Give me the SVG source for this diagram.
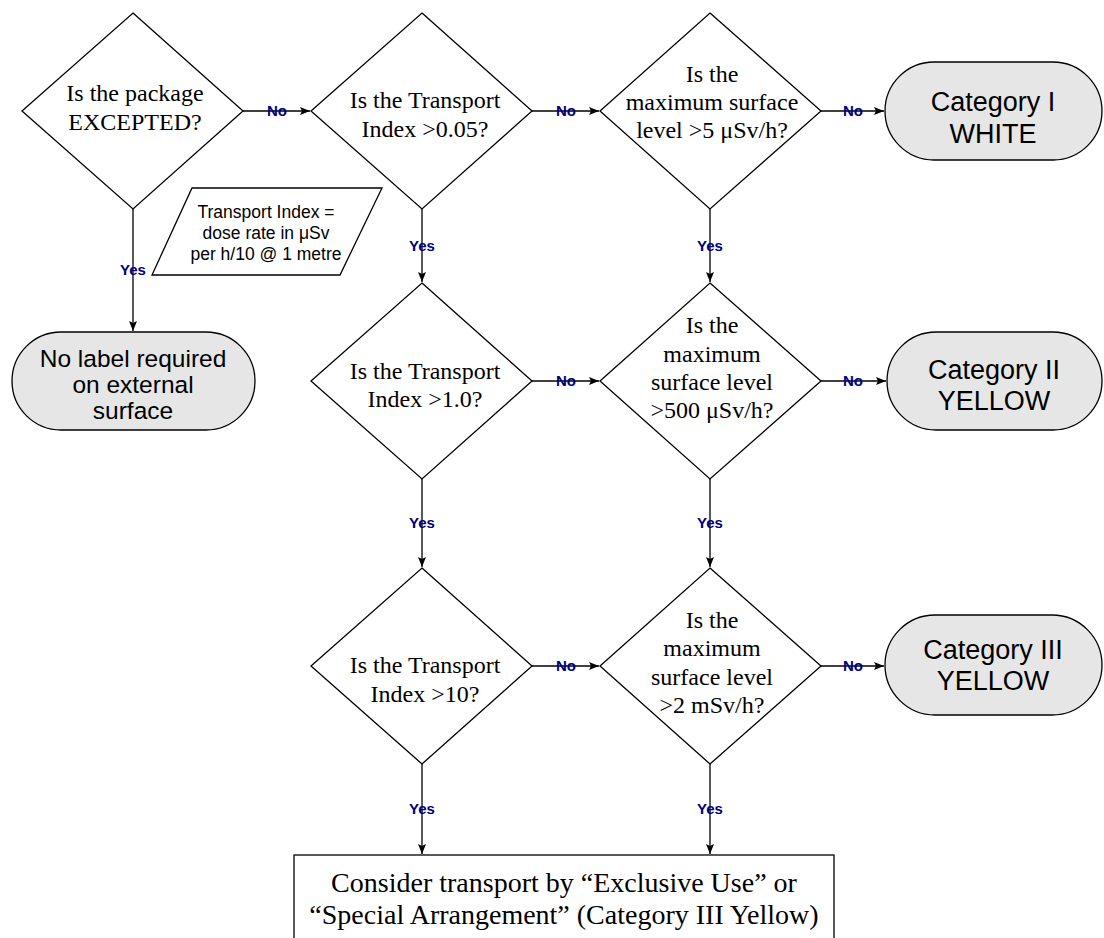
<svg xmlns="http://www.w3.org/2000/svg" width="1104" height="938" viewBox="0 0 1104 938">
<style>
.d{fill:#fff;stroke:#000;stroke-width:1.3}
.t{fill:#e6e6e6;stroke:#000;stroke-width:1.3}
.c{fill:none;stroke:#000;stroke-width:1.3}
.q{font-family:"Liberation Serif","Times New Roman",serif;font-size:24px;fill:#000;text-anchor:middle}
.a{font-family:"Liberation Sans",Arial,sans-serif;font-size:27px;fill:#000;text-anchor:middle}
.l{font-family:"Liberation Sans",Arial,sans-serif;font-size:15px;font-weight:bold;fill:#000080;text-anchor:middle}
</style>
<defs>
<marker id="ah" markerWidth="11" markerHeight="9" refX="10" refY="4" orient="auto" markerUnits="userSpaceOnUse">
<path d="M0,0 L10,4 L0,8 L2,4 z" fill="#000"/>
</marker>
</defs>
<rect width="1104" height="938" fill="#fff"/>
<g id="connectors">
<path class="c" d="M243,111 H310" marker-end="url(#ah)"/>
<path class="c" d="M532,111 H599" marker-end="url(#ah)"/>
<path class="c" d="M821,111 H884" marker-end="url(#ah)"/>
<path class="c" d="M133,209 V331" marker-end="url(#ah)"/>
<path class="c" d="M422,209 V282" marker-end="url(#ah)"/>
<path class="c" d="M710,209 V282" marker-end="url(#ah)"/>
<path class="c" d="M532,381 H599" marker-end="url(#ah)"/>
<path class="c" d="M821,381 H886" marker-end="url(#ah)"/>
<path class="c" d="M422,479 V567" marker-end="url(#ah)"/>
<path class="c" d="M710,479 V567" marker-end="url(#ah)"/>
<path class="c" d="M532,666 H599" marker-end="url(#ah)"/>
<path class="c" d="M821,666 H884" marker-end="url(#ah)"/>
<path class="c" d="M422,764 V854" marker-end="url(#ah)"/>
<path class="c" d="M710,764 V854" marker-end="url(#ah)"/>
<text class="l" x="277" y="116">No</text>
<text class="l" x="566" y="116">No</text>
<text class="l" x="853" y="116">No</text>
<text class="l" x="566" y="386">No</text>
<text class="l" x="853" y="386">No</text>
<text class="l" x="566" y="671">No</text>
<text class="l" x="853" y="671">No</text>
<text class="l" x="133" y="275">Yes</text>
<text class="l" x="422" y="251">Yes</text>
<text class="l" x="710" y="251">Yes</text>
<text class="l" x="422" y="528">Yes</text>
<text class="l" x="710" y="528">Yes</text>
<text class="l" x="422" y="814">Yes</text>
<text class="l" x="710" y="814">Yes</text>
</g>
<g id="d1">
<polygon class="d" points="133,13 243,111 133,209 22,111"/>
<text class="q" x="135" y="101">Is the package</text>
<text class="q" x="135" y="130">EXCEPTED?</text>
</g>
<g id="d2">
<polygon class="d" points="422,13 532,111 422,209 311,111"/>
<text class="q" x="425" y="108">Is the Transport</text>
<text class="q" x="425" y="137">Index &gt;0.05?</text>
</g>
<g id="d3">
<polygon class="d" points="710,13 821,111 710,209 600,111"/>
<text class="q" x="712" y="82">Is the</text>
<text class="q" x="712" y="110">maximum surface</text>
<text class="q" x="712" y="138">level &gt;5 μSv/h?</text>
</g>
<g id="catI">
<rect class="t" x="885" y="62" width="217" height="98" rx="49" ry="49"/>
<text class="a" x="993" y="111">Category I</text>
<text class="a" x="993" y="143">WHITE</text>
</g>
<g id="note">
<polygon class="d" points="192,188 382,188 340,275 152,275"/>
<text class="a" style="font-size:17.5px" x="266" y="218">Transport Index =</text>
<text class="a" style="font-size:17.5px" x="266" y="239">dose rate in μSv</text>
<text class="a" style="font-size:17.5px" x="266" y="260">per h/10 @ 1 metre</text>
</g>
<g id="noLabel">
<rect class="t" x="12" y="332" width="243" height="98" rx="49" ry="49"/>
<text class="a" style="font-size:24.5px" x="133" y="367">No label required</text>
<text class="a" style="font-size:24.5px" x="133" y="393">on external</text>
<text class="a" style="font-size:24.5px" x="133" y="419">surface</text>
</g>
<g id="d4">
<polygon class="d" points="422,283 532,381 422,479 311,381"/>
<text class="q" x="425" y="379">Is the Transport</text>
<text class="q" x="425" y="407">Index &gt;1.0?</text>
</g>
<g id="d5">
<polygon class="d" points="710,283 821,381 710,479 600,381"/>
<text class="q" x="712" y="333">Is the</text>
<text class="q" x="712" y="362">maximum</text>
<text class="q" x="712" y="390">surface level</text>
<text class="q" x="712" y="418">&gt;500 μSv/h?</text>
</g>
<g id="catII">
<rect class="t" x="887" y="332" width="215" height="98" rx="49" ry="49"/>
<text class="a" x="994" y="379">Category II</text>
<text class="a" x="994" y="410">YELLOW</text>
</g>
<g id="d6">
<polygon class="d" points="422,568 532,666 422,764 311,666"/>
<text class="q" x="425" y="673">Is the Transport</text>
<text class="q" x="425" y="702">Index &gt;10?</text>
</g>
<g id="d7">
<polygon class="d" points="710,568 821,666 710,764 600,666"/>
<text class="q" x="712" y="628">Is the</text>
<text class="q" x="712" y="656">maximum</text>
<text class="q" x="712" y="685">surface level</text>
<text class="q" x="712" y="713">&gt;2 mSv/h?</text>
</g>
<g id="catIII">
<rect class="t" x="885" y="615" width="217" height="100" rx="50" ry="50"/>
<text class="a" x="993" y="659">Category III</text>
<text class="a" x="993" y="690">YELLOW</text>
</g>
<g id="final">
<rect class="d" x="294" y="855" width="540" height="100"/>
<text class="q" style="font-size:28px" x="564" y="892">Consider transport by “Exclusive Use” or</text>
<text class="q" style="font-size:28px" x="564" y="924">“Special Arrangement” (Category III Yellow)</text>
</g>
</svg>
